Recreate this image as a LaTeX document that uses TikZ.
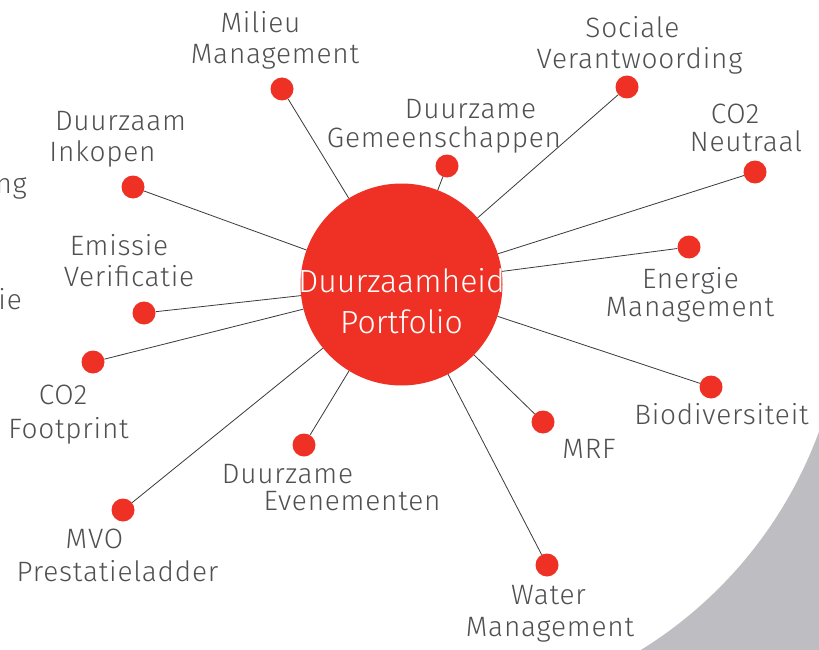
\documentclass[tikz,border=0pt]{standalone}
\usepackage{fontspec}
\setmainfont{Fira Sans}[UprightFont={* Light}]
\definecolor{pred}{HTML}{EE3124}
\definecolor{ptext}{HTML}{505053}
\definecolor{pgray}{HTML}{BEBEC2}
\definecolor{pline}{HTML}{3A3A3A}
\newcommand\lsh[2]{\makebox[0pt]{\hspace*{#1pt}\hspace*{#1pt}#2}}
\newcommand\lstr{\rule{0pt}{24pt}}
\tikzset{
  dotnode/.style={circle, fill=pred, minimum size=23pt, inner sep=0pt},
  hub/.style={circle, fill=pred, minimum size=202pt, inner sep=0pt},
  hubtext/.style={anchor=north, inner sep=0pt, align=center, text=white, font=\fontsize{32}{41}\selectfont},
  lbl/.style={anchor=north, inner sep=0pt, align=center, text=ptext, font=\fontsize{28}{30}\selectfont\addfontfeatures{LetterSpace=2.8}},
  cut/.style={anchor=base east, inner sep=0pt, text=ptext, font=\fontsize{28}{30}\selectfont\addfontfeatures{LetterSpace=2.8}},
  spoke/.style={draw=pline, line width=0.8pt},
}
\begin{document}
\begin{tikzpicture}[x=1pt,y=-1pt]
\useasboundingbox (0,0) rectangle (819,650);
\fill[white] (0,0) rectangle (819,650);
\begin{scope}
  \clip (560,284) rectangle (819,650);
  \fill[pgray, even odd rule] (0,0) rectangle (819,650) (415,284) circle[radius=430pt];
\end{scope}

\node[hub] (hub) at (401.5,284.5) {};
\node[hubtext] (hubtxt) at (401.5,262) {\rule{0pt}{30pt}Duurzaamheid\\Portfolio};

% dots
\node[dotnode] (d1) at (282,89) {};
\node[dotnode] (d2) at (627,87) {};
\node[dotnode] (d3) at (447,166) {};
\node[dotnode] (d4) at (755,172) {};
\node[dotnode] (d5) at (133,187) {};
\node[dotnode] (d6) at (689,247) {};
\node[dotnode] (d7) at (144,313) {};
\node[dotnode] (d8) at (93,362) {};
\node[dotnode] (d9) at (711,387) {};
\node[dotnode] (d10) at (543,422) {};
\node[dotnode] (d11) at (304,445) {};
\node[dotnode] (d12) at (123,510) {};
\node[dotnode] (d13) at (547,565) {};

\foreach \i in {1,...,13} \draw[spoke] (d\i) -- (hub);

% labels
\node[lbl] (l1) at (275,8.3) {\lsh{-14.5}{\lstr Milieu}\\[1pt]\lsh{0}{Management}};
\node[lbl] (l2) at (639.5,13.3) {\lsh{-7}{\lstr Sociale}\\[1pt]\lsh{0}{Verantwoording}};
\node[lbl] (l3) at (444,94) {\lsh{26.5}{\lstr Duurzame}\\[-1pt]\lsh{0}{Gemeenschappen}};
\node[lbl] (l4) at (746,99.7) {\lsh{-11}{\lstr CO2}\\[-2pt]\lsh{0}{Neutraal}};
\node[lbl] (l5) at (120.5,106.7) {\lsh{0}{\lstr Duurzaam}\\[1pt]\lsh{-18}{Inkopen}};
\node[lbl] (l6) at (690,264) {\lsh{0.5}{\lstr Energie}\\[-2pt]\lsh{0}{Management}};
\node[lbl] (l7) at (129,231) {\lsh{-10}{\lstr Emissie}\\[1pt]\lsh{0}{Verificatie}};
\node[lbl] (l8) at (68.5,380) {\lsh{-5.5}{\lstr CO2}\\[4pt]\lsh{0}{Footprint}};
\node[lbl] (l9) at (721.5,400) {\lsh{0}{\lstr Biodiversiteit}};
\node[lbl] (l10) at (589,434.5) {\lsh{0}{\lstr MRF}};
\node[lbl] (l11) at (352,459) {\lsh{-64.5}{\lstr Duurzame}\\[-3pt]\lsh{0}{Evenementen}};
\node[lbl] (l12) at (117.5,524.5) {\lsh{-23}{\lstr MVO}\\[3pt]\lsh{0}{Prestatieladder}};
\node[lbl] (l13) at (550,580) {\lsh{-1.5}{\lstr Water}\\[2pt]\lsh{0}{Management}};

\node[cut] (c1) at (27,193) {ng};
\node[cut] (c2) at (22,309) {tie};
\end{tikzpicture}
\end{document}
